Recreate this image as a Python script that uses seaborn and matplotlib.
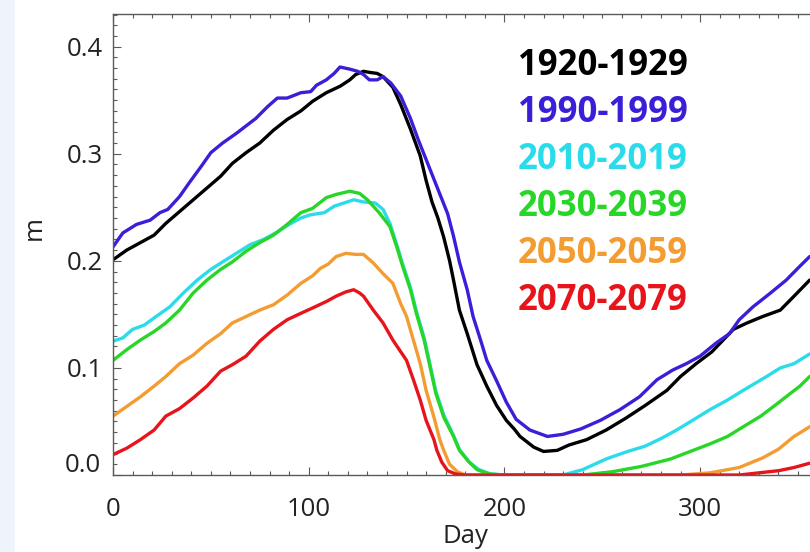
import numpy as np
import pandas as pd
import matplotlib
matplotlib.use("Agg")
import matplotlib.pyplot as plt
from matplotlib.patches import Rectangle
from matplotlib.ticker import MultipleLocator
import seaborn as sns

# ---------------- data ----------------
periods = ["1920-1929", "1990-1999", "2010-2019", "2030-2039", "2050-2059", "2070-2079"]
colors = ["#000000", "#3A1FD8", "#2ADCEB", "#27D627", "#F39C32", "#E8141B"]

days_1920 = [0, 7, 14, 21, 27, 34, 41, 48, 55, 61, 68, 75, 82, 89, 96, 102, 109, 116, 121, 124,
             128, 131, 135, 138, 143, 147, 152, 157, 160, 163, 166, 169, 172, 174, 177, 181, 186,
             191, 196, 201, 205, 208, 215, 220, 227, 233, 242, 252, 262, 272, 283, 290, 298, 306,
             317, 324, 332, 341, 348, 356]
vals_1920 = [0.201, 0.210, 0.217, 0.224, 0.235, 0.246, 0.257, 0.268, 0.279, 0.291, 0.301, 0.310,
             0.322, 0.332, 0.340, 0.349, 0.357, 0.363, 0.369, 0.374, 0.377, 0.376, 0.375, 0.372,
             0.362, 0.346, 0.323, 0.298, 0.275, 0.255, 0.240, 0.222, 0.200, 0.182, 0.154, 0.132,
             0.103, 0.083, 0.065, 0.051, 0.043, 0.036, 0.026, 0.022, 0.023, 0.028, 0.033, 0.042,
             0.053, 0.065, 0.079, 0.092, 0.104, 0.115, 0.136, 0.142, 0.148, 0.154, 0.167, 0.182]

days_1990 = [0, 5, 12, 19, 24, 28, 34, 39, 45, 50, 56, 63, 68, 73, 79, 84, 89, 96, 101, 104, 109,
             113, 116, 121, 125, 128, 131, 135, 138, 142, 147, 152, 156, 161, 166, 171, 174, 177,
             181, 184, 188, 191, 196, 201, 206, 213, 222, 230, 239, 249, 259, 269, 278, 286, 293,
             300, 308, 315, 320, 327, 336, 344, 351, 356]
vals_1990 = [0.213, 0.226, 0.234, 0.238, 0.245, 0.248, 0.260, 0.273, 0.288, 0.301, 0.310, 0.319,
             0.326, 0.333, 0.344, 0.352, 0.352, 0.357, 0.358, 0.364, 0.369, 0.375, 0.381, 0.379,
             0.377, 0.374, 0.369, 0.369, 0.372, 0.366, 0.354, 0.333, 0.313, 0.290, 0.267, 0.244,
             0.223, 0.199, 0.173, 0.148, 0.125, 0.107, 0.088, 0.068, 0.052, 0.042, 0.036, 0.038,
             0.043, 0.051, 0.061, 0.073, 0.089, 0.098, 0.104, 0.111, 0.123, 0.132, 0.145, 0.157,
             0.170, 0.182, 0.195, 0.204]

days_2010 = [0, 5, 10, 16, 22, 29, 36, 43, 50, 56, 63, 70, 77, 84, 90, 96, 101, 108, 113, 118,
             123, 128, 134, 138, 141.5, 145, 148, 152, 155, 159, 162, 165, 169, 174, 177, 182, 187,
             193, 200, 230, 240, 252, 263, 272, 280, 288, 297, 305, 314, 322, 334, 341, 348, 356]
vals_2010 = [0.125, 0.128, 0.136, 0.140, 0.148, 0.157, 0.170, 0.182, 0.192, 0.199, 0.207, 0.215,
             0.220, 0.227, 0.234, 0.240, 0.243, 0.245, 0.251, 0.254, 0.257, 0.255, 0.254, 0.248,
             0.235, 0.215, 0.197, 0.175, 0.153, 0.128, 0.103, 0.078, 0.056, 0.037, 0.024, 0.012,
             0.005, 0.001, 0.0, 0.0, 0.005, 0.015, 0.022, 0.027, 0.034, 0.042, 0.052, 0.061,
             0.070, 0.079, 0.092, 0.100, 0.104, 0.113]

days_2030 = [0, 7, 14, 21, 27, 34, 41, 48, 55, 61, 68, 75, 82, 89, 96, 102, 109, 114, 121, 126,
             130, 136, 141.5, 145, 148, 152, 155, 159, 162, 165, 169, 174, 177, 182, 186, 192, 200,
             240, 255, 270, 285, 295, 305, 314, 322, 331, 339, 346, 351, 356]
vals_2030 = [0.107, 0.117, 0.126, 0.134, 0.142, 0.154, 0.170, 0.182, 0.192, 0.199, 0.209, 0.217,
             0.224, 0.234, 0.245, 0.249, 0.259, 0.262, 0.265, 0.263, 0.257, 0.245, 0.232, 0.213,
             0.195, 0.173, 0.151, 0.126, 0.101, 0.076, 0.054, 0.036, 0.023, 0.012, 0.005, 0.001,
             0.0, 0.0, 0.003, 0.008, 0.015, 0.022, 0.029, 0.036, 0.045, 0.055, 0.066, 0.076,
             0.083, 0.092]

days_2050 = [0, 7, 14, 21, 27, 34, 41, 48, 55, 61, 68, 75, 82, 89, 96, 102, 106, 110, 114, 119,
             124, 128, 133, 138, 143, 147, 150, 153.5, 157, 160, 164, 167, 169, 172, 176, 180,
             290, 305, 320, 332, 340, 348, 356]
vals_2050 = [0.055, 0.064, 0.073, 0.083, 0.092, 0.104, 0.112, 0.123, 0.132, 0.142, 0.148, 0.154,
             0.159, 0.168, 0.179, 0.186, 0.193, 0.197, 0.204, 0.207, 0.206, 0.206, 0.198, 0.188,
             0.179, 0.160, 0.148, 0.126, 0.104, 0.079, 0.054, 0.033, 0.023, 0.010, 0.003, 0.0,
             0.0, 0.002, 0.007, 0.016, 0.024, 0.036, 0.045]

days_2070 = [0, 7, 14, 21, 27, 34, 41, 48, 55, 61, 68, 75, 82, 89, 96, 102, 109, 114, 119, 123,
             126, 128, 133, 138, 143, 150, 153.5, 157, 160, 164, 165.5, 168, 171, 175, 180,
             320, 330, 340, 348, 356]
vals_2070 = [0.019, 0.025, 0.033, 0.042, 0.055, 0.062, 0.072, 0.083, 0.097, 0.103, 0.111, 0.125,
             0.136, 0.145, 0.151, 0.156, 0.162, 0.167, 0.171, 0.173, 0.170, 0.167, 0.154, 0.142,
             0.126, 0.107, 0.089, 0.070, 0.051, 0.033, 0.023, 0.012, 0.004, 0.001, 0.0,
             0.0, 0.002, 0.004, 0.007, 0.011]

x_ticks = [0, 100, 200, 300]
y_ticks = [0.0, 0.1, 0.2, 0.3, 0.4]
y_tick_labels = ["0.0", "0.1", "0.2", "0.3", "0.4"]

series_days = [days_1920, days_1990, days_2010, days_2030, days_2050, days_2070]
series_vals = [vals_1920, vals_1990, vals_2010, vals_2030, vals_2050, vals_2070]

frames = []
for p, d, v in zip(periods, series_days, series_vals):
    frames.append(pd.DataFrame({"Day": d, "m": v, "Period": p}))
df = pd.concat(frames, ignore_index=True)

# ---------------- figure ----------------
sns.set_theme(style="ticks")
plt.rcParams["font.family"] = ["Open Sans", "DejaVu Sans"]

W, H = 810, 552
fig = plt.figure(figsize=(W / 100, H / 100), dpi=100)
fig.patch.set_facecolor("white")
fig.patches.append(Rectangle((0, 0), 15 / W, 1, transform=fig.transFigure,
                             facecolor="#EEF4FA", edgecolor="none", zorder=-5))

ax_left, ax_bottom = 113, 475          # pixel positions (from top-left)
ax_top = 14
px_per_day = 1.957
ax_w = 365 * px_per_day
ax_h = ax_bottom - ax_top
ax = fig.add_axes([ax_left / W, (H - ax_bottom) / H, ax_w / W, ax_h / H])

sns.lineplot(data=df, x="Day", y="m", hue="Period", hue_order=periods,
             palette=dict(zip(periods, colors)), estimator=None, sort=False,
             linewidth=2.4, legend=False, ax=ax)

ax.set_xlim(0, 365)
ax.set_ylim(0, 0.4305)

ax.set_xticks(x_ticks)
ax.set_xticklabels([str(t) for t in x_ticks])
ax.set_yticks(y_ticks)
ax.set_yticklabels([""] + y_tick_labels[1:])
ax.xaxis.set_minor_locator(MultipleLocator(10))
ax.yaxis.set_minor_locator(MultipleLocator(0.01))

spine_c = "#5a5a5a"
for s in ax.spines.values():
    s.set_visible(True)
    s.set_color(spine_c)
    s.set_linewidth(1.0)

ax.tick_params(which="both", direction="in", top=True, right=True, color=spine_c, width=0.8)
ax.tick_params(which="major", length=6)
ax.tick_params(which="minor", length=3)
ax.tick_params(axis="x", which="major", pad=16, labelsize=18.5, labelcolor="#222222")
ax.tick_params(axis="y", which="major", pad=7, labelsize=18.5, labelcolor="#222222")

# 0.0 label sits a little above its tick, as in the reference
ax.annotate(y_tick_labels[0], xy=(0, 0), xycoords=("axes fraction", "data"),
            xytext=(-12, 10), textcoords="offset pixels", ha="right", va="center",
            fontsize=18.5, color="#222222")

ax.set_xlabel("Day", fontsize=18.5, color="#222222")
ax.set_ylabel("m", fontsize=18.5, color="#222222")
# xlabel is top-anchored: top edge ~ 524 px -> centre ~ 537 px
ax.xaxis.set_label_coords((465 - ax_left) / ax_w, -(524 - ax_bottom) / ax_h)
# ylabel is anchored at its right side after rotation
ax.yaxis.set_label_coords((47 - ax_left) / ax_w, (ax_bottom - 228) / ax_h)

# colored period labels
label_y_px = [66, 113, 160, 207, 254, 301]
for p, c, yp in zip(periods, colors, label_y_px):
    ax.text((518 - ax_left) / ax_w, (ax_bottom - yp) / ax_h, p,
            transform=ax.transAxes, ha="left", va="center", color=c,
            fontsize=25, fontweight="bold", family=["Open Sans", "DejaVu Sans"])

fig.savefig("out.png", dpi=100)
